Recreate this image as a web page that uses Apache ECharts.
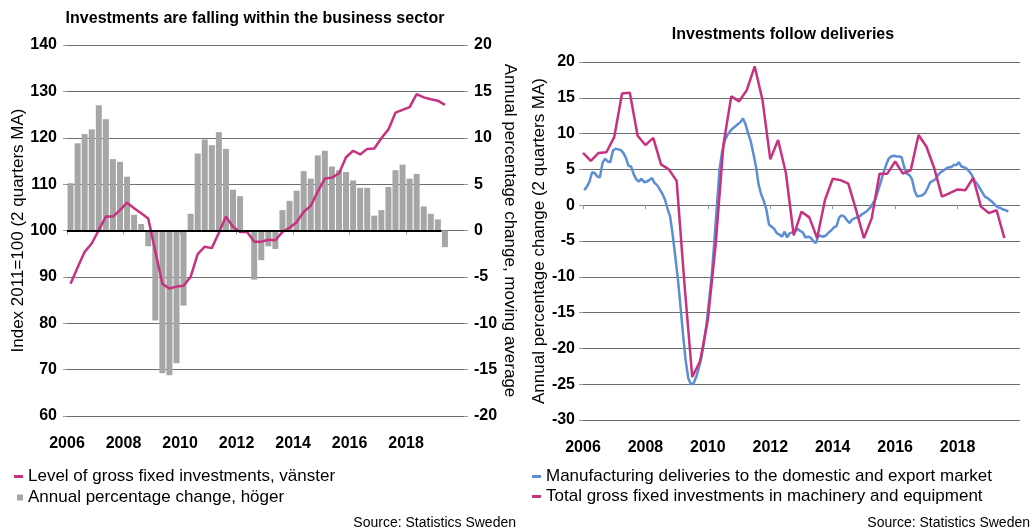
<!DOCTYPE html>
<html><head><meta charset="utf-8">
<script src="https://cdn.jsdelivr.net/npm/echarts@6/dist/echarts.min.js"></script>
<style>html,body{margin:0;padding:0;background:#fff}#c{width:1034px;height:530px}</style>
</head><body><div id="c"></div>
<script>
// ---------- DATA ----------
const leftQuarters = ['2006Q1','2006Q2','2006Q3','2006Q4','2007Q1','2007Q2','2007Q3','2007Q4','2008Q1','2008Q2','2008Q3','2008Q4','2009Q1','2009Q2','2009Q3','2009Q4','2010Q1','2010Q2','2010Q3','2010Q4','2011Q1','2011Q2','2011Q3','2011Q4','2012Q1','2012Q2','2012Q3','2012Q4','2013Q1','2013Q2','2013Q3','2013Q4','2014Q1','2014Q2','2014Q3','2014Q4','2015Q1','2015Q2','2015Q3','2015Q4','2016Q1','2016Q2','2016Q3','2016Q4','2017Q1','2017Q2','2017Q3','2017Q4','2018Q1','2018Q2','2018Q3','2018Q4','2019Q1','2019Q2'];
// Level of gross fixed investments (index, left axis)
const investLevel = [88.5,92.0,95.4,97.2,100.1,103.0,103.0,104.4,106.0,104.8,103.7,102.6,95.5,88.5,87.5,87.9,88.1,90.0,94.9,96.5,96.2,99.5,103.0,100.8,99.7,99.7,97.6,97.6,98.0,97.9,99.7,100.6,101.8,104.0,105.3,108.4,111.2,111.4,112.3,115.8,117.2,116.4,117.6,117.7,119.9,121.8,125.4,126.0,126.6,129.4,128.7,128.3,128.0,127.1];
// Annual percentage change (right axis)
const investChange = [5.1,9.4,10.4,10.9,13.5,12.0,7.7,7.4,5.8,1.7,0.7,-1.7,-9.7,-15.4,-15.6,-14.3,-8.1,1.8,8.3,9.8,9.2,10.6,8.8,4.4,3.7,0.0,-5.3,-3.2,-1.7,-2.0,2.2,3.2,4.3,6.4,5.6,8.1,8.6,6.9,6.5,6.3,5.4,4.6,4.6,1.6,2.2,4.7,6.5,7.1,5.6,6.1,2.6,1.8,1.2,-1.8];

const rightQuarters = ['2006Q1','2006Q2','2006Q3','2006Q4','2007Q1','2007Q2','2007Q3','2007Q4','2008Q1','2008Q2','2008Q3','2008Q4','2009Q1','2009Q2','2009Q3','2009Q4','2010Q1','2010Q2','2010Q3','2010Q4','2011Q1','2011Q2','2011Q3','2011Q4','2012Q1','2012Q2','2012Q3','2012Q4','2013Q1','2013Q2','2013Q3','2013Q4','2014Q1','2014Q2','2014Q3','2014Q4','2015Q1','2015Q2','2015Q3','2015Q4','2016Q1','2016Q2','2016Q3','2016Q4','2017Q1','2017Q2','2017Q3','2017Q4','2018Q1','2018Q2','2018Q3','2018Q4','2019Q1','2019Q2','2019Q3'];
// Total gross fixed investments in machinery and equipment
const machineryInvest = [7.3,6.2,7.3,7.4,9.5,15.6,15.7,9.7,8.4,9.4,5.7,5.0,3.4,-11.0,-24.0,-21.8,-16.0,-5.5,8.5,15.2,14.5,16.1,19.4,14.7,6.4,9.1,4.5,-4.2,-0.9,-1.7,-4.6,0.7,3.7,3.5,3.0,-0.7,-4.6,-1.8,4.4,4.4,6.1,4.4,4.9,9.8,8.2,5.2,1.2,1.7,2.2,2.1,3.8,-0.2,-1.1,-0.7,-4.6];

// Manufacturing deliveries, monthly from Jan 2006
const deliveriesStartYear = 2006;
const deliveries = [
 2.1,2.6,3.3,4.6,4.5,4.0,3.9,5.9,6.5,6.1,
 6.0,7.6,7.9,7.8,7.7,7.3,6.6,5.5,5.4,4.3,
 3.6,3.3,3.7,3.2,3.3,3.5,3.8,3.1,2.8,2.2,
 1.6,0.8,-0.5,-1.6,-4.2,-7.2,-10.4,-14.2,-18.2,-21.8,
 -24.2,-25.0,-24.9,-24.0,-22.8,-21.3,-19.2,-16.5,-13.2,-9.8,
 -5.0,0.0,5.0,7.5,9.0,9.8,10.3,10.7,11.0,11.3,
 11.6,12.1,11.3,10.0,8.9,7.2,5.4,2.9,1.5,0.6,
 -0.6,-2.7,-3.0,-3.3,-3.9,-4.1,-4.4,-3.7,-4.5,-3.9,
 -3.8,-3.7,-3.3,-3.6,-3.8,-4.5,-4.4,-4.5,-5.0,-5.3,
 -4.2,-4.3,-4.4,-4.2,-3.8,-3.5,-3.1,-2.9,-1.7,-1.4,
 -1.6,-2.1,-2.5,-2.0,-1.8,-1.7,-1.5,-1.2,-1.0,-0.7,
 -0.3,0.3,0.9,2.1,3.3,4.5,5.6,6.5,6.8,6.9,
 6.8,6.8,6.7,5.3,4.4,4.2,3.6,2.0,1.2,1.3,
 1.4,1.7,2.4,3.2,3.4,3.6,4.2,4.6,4.8,5.1,
 5.3,5.3,5.6,5.6,6.0,5.4,5.3,5.1,4.7,4.2,
 3.4,3.0,2.4,1.8,1.2,1.0,0.7,0.4,0.0,-0.3,
 -0.4,-0.6,-0.7,-0.9];

const yearTicks = [2006,2008,2010,2012,2014,2016,2018];

const NAME_LEVEL = 'Level of gross fixed investments, vänster';
const NAME_CHANGE = 'Annual percentage change, höger';
const NAME_DELIV = 'Manufacturing deliveries to the domestic and export market';
const NAME_MACH = 'Total gross fixed investments in machinery and equipment';

// ---------- HELPERS ----------
function qStart(q){ const p = q.split('Q'); return +p[0] + (+p[1]-1)/4; }
function qCenter(q){ return qStart(q) + 0.125; }
function monthMid(i){ return deliveriesStartYear + (i + 0.5)/12; }

const C_MAG = '#C7317F', C_BLUE = '#5B8ED2', C_BAR = '#A6A6A6';
const FONT = '"Liberation Sans", Arial, sans-serif';
const tickLbl = {fontSize:16, fontWeight:'bold', color:'#000', fontFamily:FONT};
const gridLine = {show:true, lineStyle:{color:'#6e6e6e', width:1}};
const yTick = {show:true, length:4, lineStyle:{color:'#999'}};
const nameStyle = {fontSize:17, color:'#000', fontFamily:FONT};
const legendText = {fontSize:17, color:'#000', fontFamily:FONT};

function xAxisFor(gi, max, margin){
  return {
    type:'value', gridIndex:gi, min:2006, max:max, interval:2, offset:10,
    axisLine:{show:false},
    axisTick:{show:true, length:4, lineStyle:{color:'#999'}, customValues:yearTicks},
    axisLabel:Object.assign({margin:margin, customValues:yearTicks,
      formatter:v => (v % 2 === 0 && v <= 2018) ? String(v) : ''}, tickLbl),
    splitLine:{show:false}
  };
}

const chart = echarts.init(document.getElementById('c'), null, {renderer:'canvas'});
chart.setOption({
  animation:false,
  backgroundColor:'#fff',
  textStyle:{fontFamily:FONT},
  grid:[
    {left:67, top:45, width:397, height:371},
    {left:583, top:62, width:437, height:358}
  ],
  xAxis:[ xAxisFor(0, 2020.05, 10), xAxisFor(1, 2020, 10) ],
  yAxis:[
    {type:'value', gridIndex:0, position:'left', min:60, max:140, interval:10,
     axisLine:{show:false}, axisTick:yTick, axisLabel:Object.assign({margin:10}, tickLbl),
     splitLine:gridLine,
     name:'Index 2011=100 (2 quarters MA)', nameLocation:'middle', nameGap:40, nameRotate:90,
     nameMoveOverlap:false, nameTextStyle:nameStyle},
    {type:'value', gridIndex:0, position:'right', min:-20, max:20, interval:5,
     axisLine:{show:false}, axisTick:yTick, axisLabel:Object.assign({margin:10}, tickLbl),
     splitLine:{show:false},
     name:'Annual percentage change, moving average', nameLocation:'middle', nameGap:37, nameRotate:-90,
     nameMoveOverlap:false, nameTextStyle:nameStyle},
    {type:'value', gridIndex:1, position:'left', min:-30, max:20, interval:5,
     axisLine:{show:false}, axisTick:yTick, axisLabel:Object.assign({margin:8}, tickLbl),
     splitLine:gridLine,
     name:'Annual percentage change (2 quarters MA)', nameLocation:'middle', nameGap:35, nameRotate:90,
     nameMoveOverlap:false, nameTextStyle:nameStyle}
  ],
  legend:[
    {data:[NAME_LEVEL], left:14, top:468, padding:0, icon:'rect', itemWidth:9, itemHeight:3,
     textStyle:legendText, selectedMode:false},
    {data:[NAME_CHANGE], left:17, top:489, padding:0, icon:'rect', itemWidth:6, itemHeight:6,
     textStyle:legendText, selectedMode:false},
    {data:[NAME_DELIV], left:532, top:468, padding:0, icon:'rect', itemWidth:9, itemHeight:3,
     textStyle:legendText, selectedMode:false},
    {data:[NAME_MACH], left:532, top:488, padding:0, icon:'rect', itemWidth:9, itemHeight:3,
     textStyle:legendText, selectedMode:false}
  ],
  graphic:[
    {type:'text', style:{text:'Investments are falling within the business sector', x:255, y:19,
      textAlign:'center', textVerticalAlign:'middle', font:'bold 16px ' + FONT, fill:'#000'}},
    {type:'text', style:{text:'Investments follow deliveries', x:783, y:35,
      textAlign:'center', textVerticalAlign:'middle', font:'bold 16px ' + FONT, fill:'#000'}},
    {type:'text', style:{text:'Source: Statistics Sweden', x:516, y:523,
      textAlign:'right', textVerticalAlign:'middle', font:'14px ' + FONT, fill:'#000'}},
    {type:'text', style:{text:'Source: Statistics Sweden', x:1030, y:523,
      textAlign:'right', textVerticalAlign:'middle', font:'14px ' + FONT, fill:'#000'}}
  ],
  series:[
    {name:NAME_CHANGE, type:'bar', xAxisIndex:0, yAxisIndex:1, barWidth:6,
     itemStyle:{color:C_BAR},
     data:leftQuarters.map((q,i)=>[qCenter(q), investChange[i]]),
     markLine:{silent:true, symbol:'none', label:{show:false}, animation:false,
       lineStyle:{color:'#000', width:2, type:'solid'},
       data:[[{coord:[qStart(leftQuarters[0]),0]},{coord:[qStart(leftQuarters[leftQuarters.length-1]),0]}]]},
     z:2},
    {name:NAME_LEVEL, type:'line', xAxisIndex:0, yAxisIndex:0, symbol:'none',
     lineStyle:{color:C_MAG, width:2.5}, itemStyle:{color:C_MAG},
     data:leftQuarters.map((q,i)=>[qCenter(q), investLevel[i]]), z:4},
    {name:NAME_DELIV, type:'line', xAxisIndex:1, yAxisIndex:2, symbol:'none',
     lineStyle:{color:C_BLUE, width:2.5}, itemStyle:{color:C_BLUE},
     data:deliveries.map((v,i)=>[monthMid(i), v]), z:3},
    {name:NAME_MACH, type:'line', xAxisIndex:1, yAxisIndex:2, symbol:'none',
     lineStyle:{color:C_MAG, width:2.5}, itemStyle:{color:C_MAG},
     data:rightQuarters.map((q,i)=>[qStart(q), machineryInvest[i]]), z:4}
  ]
});
</script>
</body></html>
